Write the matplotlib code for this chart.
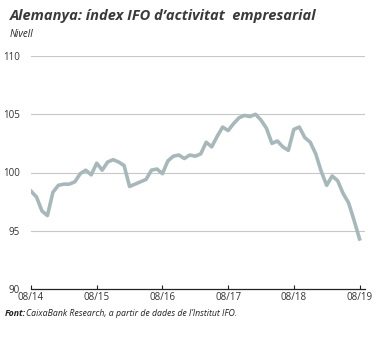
import numpy as np
import matplotlib
matplotlib.use('Agg')
import matplotlib.pyplot as plt

# Monthly IFO index, 08/2014 .. 08/2019
ifo = [98.4, 97.9, 96.7, 96.3, 98.3, 98.9, 99.0, 99.0, 99.2, 99.9,
       100.2, 99.8, 100.8, 100.2, 100.9, 101.1, 100.9, 100.6, 98.8, 99.0,
       99.2, 99.4, 100.2, 100.3, 99.9, 101.0, 101.4, 101.5, 101.2, 101.5,
       101.4, 101.6, 102.6, 102.2, 103.1, 103.9, 103.6, 104.2, 104.7, 104.9,
       104.8, 105.0, 104.5, 103.8, 102.5, 102.7, 102.2, 101.9, 103.7, 103.9,
       103.0, 102.6, 101.6, 100.1, 98.9, 99.7, 99.3, 98.2, 97.4, 95.9,
       94.3]
x_labels = ["08/14", "08/15", "08/16", "08/17", "08/18", "08/19"]
y_ticks = [90, 95, 100, 105, 110]

plt.rcParams['font.family'] = ['Open Sans', 'DejaVu Sans']
txt = '#333333'

fig = plt.figure(figsize=(3.84, 3.38), dpi=100)
ax = fig.add_axes([31/384, (338-289)/338, (365-31)/384, (289-56)/338])

months = np.arange(len(ifo))
ax.plot(months, ifo, color='#a8b8ba', lw=2.6, solid_joinstyle='round', zorder=3)

ax.set_xlim(0, 61)
ax.set_ylim(90, 110)
ax.set_yticks(y_ticks)
ax.set_xticks(np.arange(0, 61, 12))
ax.set_xticklabels(x_labels)
for y in y_ticks[1:]:
    ax.axhline(y, color='#c8c8c8', lw=0.8, zorder=1)

for s in ['top', 'right', 'left']:
    ax.spines[s].set_visible(False)
ax.spines['bottom'].set_color('#222222')
ax.spines['bottom'].set_linewidth(0.9)
ax.tick_params(axis='x', direction='in', length=3, width=0.8, color='#222222',
               labelsize=7, labelcolor=txt, pad=2)
ax.tick_params(axis='y', length=0, labelsize=7, labelcolor=txt, pad=8)

fig.text(10/384, 1 - 20/338, "Alemanya: índex IFO d’activitat  empresarial",
         fontsize=10.5, fontweight='bold', fontstyle='italic', color='#3a3a3a')
fig.text(10/384, 1 - 37/338, "Nivell", fontsize=7, fontstyle='italic', color='#222222')
fig.text(5/384, 1 - 316/338, "Font:", fontsize=6.3, fontweight='bold',
         fontstyle='italic', color='#222222')
fig.text(26/384, 1 - 316/338, "CaixaBank Research, a partir de dades de l’Institut IFO.",
         fontsize=6.3, fontstyle='italic', color='#222222')

fig.savefig('out.png', dpi=100)
